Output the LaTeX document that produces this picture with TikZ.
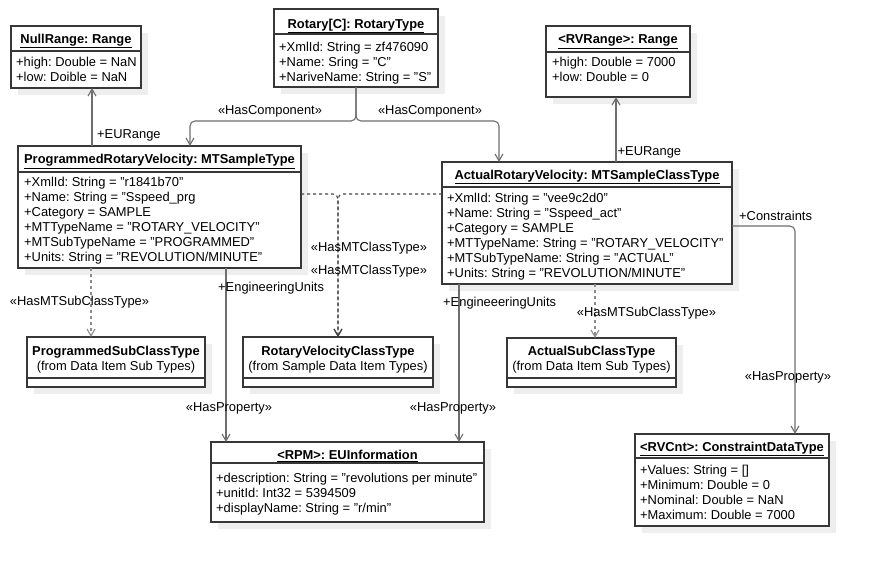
\documentclass[tikz,border=0pt]{standalone}
\usepackage{fontspec}
\setmainfont{Liberation Sans}
\usepackage{tikz}
\usetikzlibrary{arrows.meta,shadows,positioning}
\frenchspacing

\begin{document}
\begin{tikzpicture}[x=1pt,y=-1pt,
  font=\fontsize{12.9}{15}\selectfont,
  classbox/.style={draw=boxColor,line width=1.2pt,fill=white,inner sep=0pt,outer sep=0pt,anchor=north west,
    drop shadow={shadow xshift=7pt,shadow yshift=-7pt,fill=shadowColor,opacity=1}},
  divider/.style={draw=boxColor,line width=1.2pt},
  header/.style={font=\fontsize{12.9}{15}\selectfont\bfseries,anchor=base,inner sep=0pt},
  attrs/.style={align=left,anchor=base west,inner sep=0pt},
  subname/.style={align=center,anchor=base,inner sep=0pt},
  lbl/.style={anchor=base,inner sep=0pt},
  lblw/.style={anchor=base west,inner sep=0pt},
  assoc/.style={draw=lineColor,line width=1.1pt,rounded corners=5pt,-{Straight Barb[length=7pt,width=8pt]}},
  depend/.style={assoc,draw=dashColor,dash pattern=on 3pt off 3pt},
  subdep/.style={assoc,draw=subColor,dash pattern=on 3pt off 3pt}]
\definecolor{fillColor}{RGB}{255,255,255}
\definecolor{boxColor}{RGB}{55,55,55}
\definecolor{lineColor}{RGB}{110,110,110}
\definecolor{dashColor}{RGB}{70,70,70}
\definecolor{subColor}{RGB}{140,140,140}
\definecolor{shadowColor}{RGB}{238,238,238}
\path[use as bounding box,fill=fillColor] (0,0) rectangle (870,566);

% instance boxes (multi-line nodes sit on the baseline of their last line)
\node[classbox,minimum width=130pt,minimum height=62pt] (nullrange) at (11,26) {};
\node[header] (nullrangeT) at (76,43) {\underline{NullRange: Range}};
\path[divider] (11,51) -- (141,51);
\node[attrs] (nullrangeA) at (16,81.3) {+high: Double = NaN\\+low: Doible = NaN};

\node[classbox,minimum width=164pt,minimum height=78pt] (rotary) at (274,9) {};
\node[header] (rotaryT) at (356,28) {\underline{Rotary[C]: RotaryType}};
\path[divider] (274,34) -- (438,34);
\node[attrs] (rotaryA) at (279,81.3) {+XmlId: String = zf476090\\+Name: Sring = "C"\\+NariveName: String = "S"};

\node[classbox,minimum width=144pt,minimum height=71pt] (rvrange) at (546,26) {};
\node[header] (rvrangeT) at (618,43.6) {\underline{<RVRange>: Range}};
\path[divider] (546,52) -- (690,52);
\node[attrs] (rvrangeA) at (552,81.3) {+high: Double = 7000\\+low: Double = 0};

\node[classbox,minimum width=283pt,minimum height=122pt] (programmed) at (18,146) {};
\node[header] (programmedT) at (159.5,163.6) {\underline{ProgrammedRotaryVelocity: MTSampleType}};
\path[divider] (18,172) -- (301,172);
\node[attrs] (programmedA) at (24,261.3) {+XmlId: String = "r1841b70"\\+Name: String = "Sspeed\_prg\\+Category = SAMPLE\\+MTTypeName = "ROTARY\_VELOCITY"\\+MTSubTypeName = "PROGRAMMED"\\+Units: String = "REVOLUTION/MINUTE"};

\node[classbox,minimum width=290pt,minimum height=122pt] (actual) at (442,162) {};
\node[header] (actualT) at (587,179.6) {\underline{ActualRotaryVelocity: MTSampleClassType}};
\path[divider] (442,187) -- (732,187);
\node[attrs] (actualA) at (447,277.9) {+XmlId: String = "vee9c2d0"\\+Name: String = "Sspeed\_act"\\+Category = SAMPLE\\+MTTypeName: String = "ROTARY\_VELOCITY"\\+MTSubTypeName: String = "ACTUAL"\\+Units: String = "REVOLUTION/MINUTE"};

% type boxes
\node[classbox,minimum width=178pt,minimum height=50pt] (progsub) at (27,337) {};
\node[subname] (progsubT) at (116,370.3) {\textbf{ProgrammedSubClassType}\\(from Data Item Sub Types)};
\path[divider] (27,378) -- (205,378);

\node[classbox,minimum width=190pt,minimum height=50pt] (rvclass) at (243,337) {};
\node[subname] (rvclassT) at (338,370.3) {\textbf{RotaryVelocityClassType}\\(from Sample Data Item Types)};
\path[divider] (243,378) -- (433,378);

\node[classbox,minimum width=169pt,minimum height=49pt] (actualsub) at (507,338) {};
\node[subname] (actualsubT) at (591.5,370.3) {\textbf{ActualSubClassType}\\(from Data Item Sub Types)};
\path[divider] (507,378) -- (676,378);

\node[classbox,minimum width=273pt,minimum height=80pt] (rpm) at (211,442) {};
\node[header] (rpmT) at (347.5,459.6) {\underline{<RPM>: EUInformation}};
\path[divider] (211,463) -- (484,463);
\node[attrs] (rpmA) at (216,512.9) {+description: String = "revolutions per minute"\\+unitId: Int32 = 5394509\\+displayName: String = "r/min"};

\node[classbox,minimum width=194pt,minimum height=92pt] (rvcnt) at (635,434) {};
\node[header] (rvcntT) at (732,451.3) {\underline{<RVCnt>: ConstraintDataType}};
\path[divider] (635,458) -- (829,458);
\node[attrs] (rvcntA) at (640,519.6) {+Values: String = []\\+Minimum: Double = 0\\+Nominal: Double = NaN\\+Maximum: Double = 7000};

% connectors
\draw[assoc] ([xshift=-67.5pt]programmed.north) -- ([xshift=-67.5pt]programmed.north |- nullrange.south);
\draw[assoc] (rotary.south) -- ++(0,34) -| ([xshift=30.5pt]programmed.north);
\draw[assoc] (rotary.south) -- ++(0,34) -| ([xshift=-88pt]actual.north);
\draw[assoc] ([xshift=29pt]actual.north) -- ([xshift=29pt]actual.north |- rvrange.south);
\draw[depend] ([yshift=13pt]programmed.east) -| (rvclass.north);
\draw[depend] ([yshift=29pt]actual.west) -| (rvclass.north);
\draw[subdep] ([xshift=-68.5pt]programmed.south) -- ([xshift=-68.5pt]programmed.south |- progsub.north);
\draw[subdep] ([xshift=8pt]actual.south) -- ([xshift=8pt]actual.south |- actualsub.north);
\draw[assoc] ([xshift=66.5pt]programmed.south) -- ([xshift=66.5pt]programmed.south |- rpm.north);
\draw[assoc] ([xshift=-128pt]actual.south) -- ([xshift=-128pt]actual.south |- rpm.north);
\draw[assoc] ([yshift=-3pt]actual.east) -| ([xshift=63pt]rvcnt.north);

% connector labels
\node[lblw] (eurangeA) at (97,138.6) {+EURange};
\node[lbl] (compA) at (270,114.6) {«HasComponent»};
\node[lbl] (compB) at (430,114.6) {«HasComponent»};
\node[lblw] (eurangeB) at (617.5,155.3) {+EURange};
\node[lbl] (classA) at (369,251.3) {«HasMTClassType»};
\node[lbl] (classB) at (369,274.6) {«HasMTClassType»};
\node[lblw] (engA) at (218,291.3) {+EngineeringUnits};
\node[lbl] (subA) at (79.5,305.3) {«HasMTSubClassType»};
\node[lbl] (propA) at (229,411.3) {«HasProperty»};
\node[lblw] (engB) at (443,306.3) {+EngineeeringUnits};
\node[lbl] (subB) at (646.5,316.3) {«HasMTSubClassType»};
\node[lbl] (propB) at (453,411.3) {«HasProperty»};
\node[lblw] (constr) at (739,220.3) {+Constraints};
\node[lbl] (propC) at (788,380.3) {«HasProperty»};
\end{tikzpicture}
\end{document}
